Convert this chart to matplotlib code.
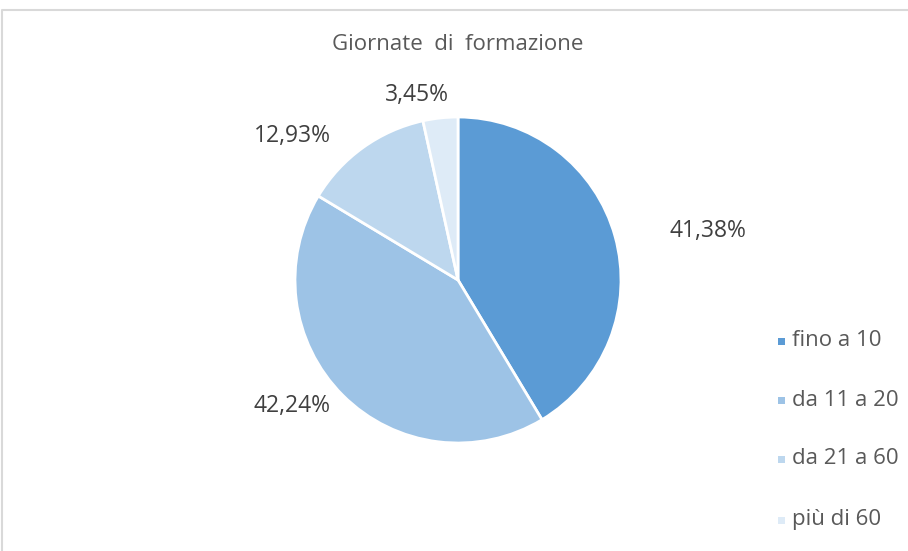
import matplotlib.pyplot as plt
from matplotlib.patches import Rectangle
from matplotlib.lines import Line2D

# data
categories = ['fino a 10', 'da 11 a 20', 'da 21 a 60', 'più di 60']
percent = [41.38, 42.24, 12.93, 3.45]
colors = ['#5B9BD5', '#9DC3E6', '#BDD7EE', '#DEEBF7']
label_pos = [(708, 231), (292, 406), (292, 136), (417, 95)]  # pixel centres of data labels

W, H = 908, 551
plt.rcParams['font.family'] = ['Open Sans', 'DejaVu Sans']
txt_col = '#595959'

fig = plt.figure(figsize=(W/100., H/100.), dpi=100)
fig.patch.set_facecolor('white')

# chart border (top and left edge visible)
fig.lines.append(Line2D([1.5/W, 1.5/W, 1.0], [0.0, 1-9.5/H, 1-9.5/H], transform=fig.transFigure,
                        color='#D9D9D9', linewidth=1.5))

cx, cy, r = 458., 280., 163.
ax = fig.add_axes([(cx-r)/W, (H-cy-r)/H, 2*r/W, 2*r/H])
ax.pie(percent, colors=colors, startangle=90, counterclock=False, radius=1.0,
       wedgeprops=dict(edgecolor='white', linewidth=2))
ax.set_xlim(-1, 1)
ax.set_ylim(-1, 1)
ax.axis('off')

for p, (x, y) in zip(percent, label_pos):
    s = ('%.2f%%' % p).replace('.', ',')
    fig.text(x/W, 1-y/H, s, ha='center', va='center', fontsize=16.5, color='#404040')

fig.text(cx/W, 1-44/H, 'Giornate  di  formazione', ha='center', va='center',
         fontsize=16, color=txt_col)

# legend
leg_y = [341, 400, 459, 520]
for c, lab, y in zip(colors, categories, leg_y):
    fig.patches.append(Rectangle((778/W, 1-(y+3.5)/H), 7/W, 7/H, transform=fig.transFigure,
                                 facecolor=c, edgecolor='none'))
    fig.text(792/W, 1-y/H, lab, ha='left', va='center', fontsize=16, color=txt_col)

fig.savefig('out.png', dpi=100)
